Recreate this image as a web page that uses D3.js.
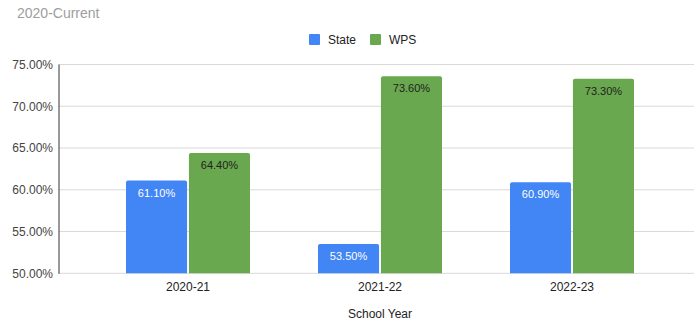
<!DOCTYPE html>
<html>
<head>
<meta charset="utf-8">
<script src="https://cdn.jsdelivr.net/npm/d3@7"></script>
<style>
  body { margin: 0; background: #fff; }
  svg { display: block; font-family: Arial, "Liberation Sans", sans-serif; }
</style>
</head>
<body>
<svg id="chart" width="694" height="323"></svg>
<script>
// School years and percentage values per series
const years = ["2020-21", "2021-22", "2022-23"];
const seriesNames = ["State", "WPS"];
const stateValues = [61.1, 53.5, 60.9];
const wpsValues = [64.4, 73.6, 73.3];
const yTicks = [50, 55, 60, 65, 70, 75];

const colors = { State: "#4285f4", WPS: "#6aa84f" };
const labelColors = { State: "#ffffff", WPS: "#222222" };

const svg = d3.select("#chart");
const plotLeft = 59, plotRight = 694, plotTop = 64.5, plotBottom = 273.3;

const x = d3.scaleBand().domain(years).range([92, 668]).paddingInner(0).paddingOuter(0);
const inner = d3.scaleBand().domain(seriesNames).range([34, 192 - 34]).paddingInner(0.03);
const y = d3.scaleLinear().domain([50, 75]).range([plotBottom, plotTop]);

// Title
svg.append("text").attr("x", 17).attr("y", 18)
  .attr("fill", "#9e9e9e").attr("font-size", 14).text("2020-Current");

// Gridlines
svg.append("g").selectAll("line").data(yTicks).join("line")
  .attr("x1", plotLeft).attr("x2", plotRight)
  .attr("y1", d => y(d)).attr("y2", d => y(d))
  .attr("stroke", "#d9d9d9").attr("stroke-width", 1);

// Y axis labels
const yAxis = d3.axisLeft(y).tickValues(yTicks).tickSize(0).tickPadding(6)
  .tickFormat(d => d.toFixed(2) + "%");
const gy = svg.append("g").attr("transform", `translate(${plotLeft},0)`).call(yAxis);
gy.select(".domain").remove();
gy.selectAll("text").attr("fill", "#444").attr("font-size", 12)
  .attr("font-family", "Arial, 'Liberation Sans', sans-serif");

// Bars
const rows = years.map((yr, i) => ({ year: yr, State: stateValues[i], WPS: wpsValues[i] }));
const groups = svg.append("g").selectAll("g").data(rows).join("g")
  .attr("transform", d => `translate(${x(d.year)},0)`);

const bars = groups.selectAll("g.bar")
  .data(d => seriesNames.map(s => ({ key: s, value: d[s] })))
  .join("g").attr("class", "bar");

bars.append("path")
  .attr("fill", d => colors[d.key])
  .attr("d", d => {
    const x0 = inner(d.key), w = inner.bandwidth();
    const top = y(d.value), bot = y(50), r = 2;
    return `M${x0},${bot} V${top + r} Q${x0},${top} ${x0 + r},${top} H${x0 + w - r} Q${x0 + w},${top} ${x0 + w},${top + r} V${bot} Z`;
  });

bars.append("text")
  .attr("x", d => inner(d.key) + inner.bandwidth() / 2)
  .attr("y", d => y(d.value) + 16)
  .attr("text-anchor", "middle")
  .attr("font-size", 11)
  .attr("fill", d => labelColors[d.key])
  .text(d => d.value.toFixed(2) + "%");

// Left axis line
svg.append("line").attr("x1", plotLeft).attr("x2", plotLeft)
  .attr("y1", plotTop).attr("y2", plotBottom + 0.5)
  .attr("stroke", "#333").attr("stroke-width", 1);

// X axis labels
const xAxis = d3.axisBottom(x).tickSize(0).tickPadding(9);
const gx = svg.append("g").attr("transform", `translate(0,${plotBottom})`).call(xAxis);
gx.select(".domain").remove();
gx.selectAll("text").attr("fill", "#222").attr("font-size", 12)
  .attr("font-family", "Arial, 'Liberation Sans', sans-serif");

// X axis title
svg.append("text").attr("x", 380).attr("y", 318).attr("text-anchor", "middle")
  .attr("fill", "#222").attr("font-size", 12).text("School Year");

// Legend
const legend = svg.append("g").selectAll("g").data(seriesNames).join("g")
  .attr("transform", (d, i) => `translate(${[309, 370][i]},34)`);
legend.append("rect").attr("width", 11).attr("height", 11).attr("rx", 1)
  .attr("fill", d => colors[d]);
legend.append("text").attr("x", 19).attr("y", 10).attr("font-size", 12)
  .attr("fill", "#222").text(d => d);
</script>
</body>
</html>
